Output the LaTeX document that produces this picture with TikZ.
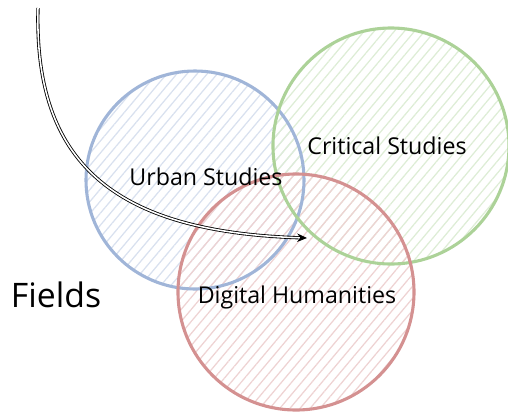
\documentclass[tikz,border=0pt]{standalone}
\usepackage{tikz}
\usetikzlibrary{patterns.meta,arrows.meta}
\usepackage{fontspec}
\setmainfont{Open Sans}
\definecolor{urbanblue}{RGB}{160,181,216}
\definecolor{critgreen}{RGB}{172,210,152}
\definecolor{digired}{RGB}{212,145,145}
\tikzset{field/.style={line width=2.2pt},
  hatch/.style={pattern={Lines[angle=50,distance=5.5pt,line width=0.9pt]},pattern color=#1!40},
  lab/.style={font=\fontsize{16.5}{18}\selectfont}}

\begin{document}
\begin{tikzpicture}[x=0.025cm,y=-0.025cm]
   \useasboundingbox (0,0) rectangle (508,417);
   % hatched circles
   \fill[hatch=urbanblue] (195,180) circle (109);
   \fill[hatch=critgreen] (391,146) circle (118);
   \fill[hatch=digired] (296,292) circle (118);
   \draw[field,urbanblue] (195,180) circle (109);
   \draw[field,critgreen] (391,146) circle (118);
   \draw[field,digired] (296,292) circle (118);
   % labels
   \node[lab] (urban) at (206,177) {Urban Studies};
   \node[lab] (crit) at (387,146) {Critical Studies};
   \node[lab] (digi) at (297,297) {Digital Humanities};
   \node[font=\fontsize{24}{26}\selectfont] (fields) at (56,295) {Fields};
   % arrow
   \coordinate (start) at (38,8);
   \coordinate (goal) at (307,238);
   \draw[double,double distance=1.1pt,semithick,-{Stealth[length=7pt,width=6pt]}]
      (start) .. controls (34,160) and (110,232) .. (goal);
  \end{tikzpicture}
\end{document}
